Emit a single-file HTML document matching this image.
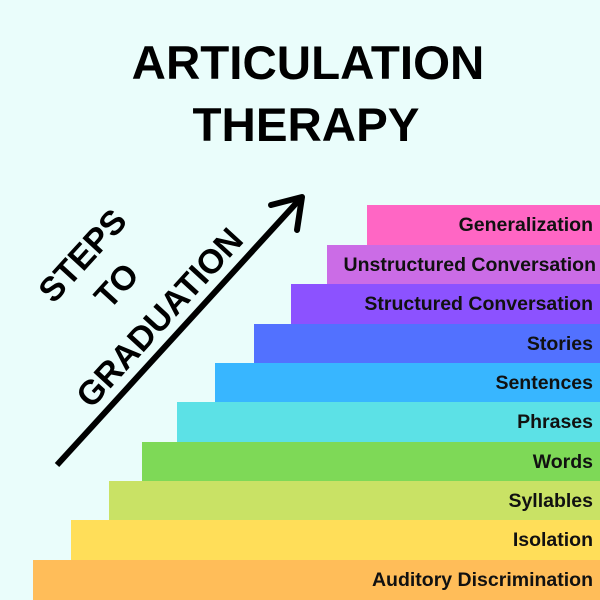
<!DOCTYPE html>
<html><head><style>
body{margin:0;width:600px;height:600px;background:#eafdfb;position:relative;overflow:hidden;font-family:"Liberation Sans",Arial,sans-serif}
.t{position:absolute;left:8px;width:600px;text-align:center;font-weight:bold;font-size:47.5px;color:#000}
.b{position:absolute;right:0;height:40px;line-height:40px;text-align:right;padding-right:7px;box-sizing:border-box;font-weight:bold;font-size:19.5px;color:#111;white-space:nowrap}
.r{position:absolute;font-weight:bold;font-size:34px;white-space:nowrap;transform:translate(-50%,-50%) rotate(-47.6deg);line-height:1}
</style></head><body>
<div class="t" style="top:36px">ARTICULATION</div>
<div class="t" style="top:98px;left:6px">THERAPY</div>
<div class="b" style="top:205px;left:367px;background:#ff66c4">Generalization</div>
<div class="b" style="top:245px;left:327px;background:#cb6ce6;padding-right:4px">Unstructured Conversation</div>
<div class="b" style="top:284px;left:291px;background:#8c52ff">Structured Conversation</div>
<div class="b" style="top:324px;left:254px;background:#5271ff">Stories</div>
<div class="b" style="top:363px;left:215px;background:#38b6ff">Sentences</div>
<div class="b" style="top:402px;left:177px;background:#5ce1e6">Phrases</div>
<div class="b" style="top:442px;left:142px;background:#7ed957">Words</div>
<div class="b" style="top:481px;left:109px;background:#c9e265">Syllables</div>
<div class="b" style="top:520px;left:71px;background:#ffde59">Isolation</div>
<div class="b" style="top:560px;left:33px;background:#ffbd59">Auditory Discrimination</div>
<div class="r" style="left:83px;top:256px">STEPS</div>
<div class="r" style="left:117px;top:286px">TO</div>
<div class="r" style="left:160px;top:318px">GRADUATION</div>
<svg style="position:absolute;left:0;top:0" width="600" height="600">
<line x1="57" y1="465" x2="300" y2="199" stroke="#000" stroke-width="6"/>
<polyline points="271,205 302,197 297,230" fill="none" stroke="#000" stroke-width="6" stroke-linecap="round" stroke-linejoin="round"/>
</svg>
</body></html>
